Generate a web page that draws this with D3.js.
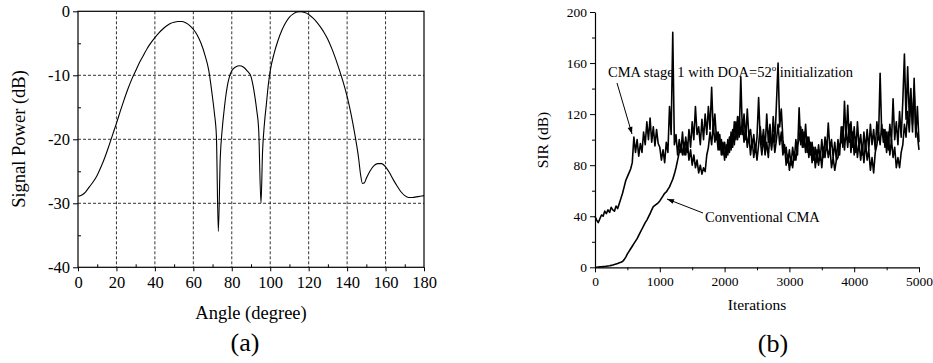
<!DOCTYPE html>
<html>
<head>
<meta charset="utf-8">
<script src="https://cdn.jsdelivr.net/npm/d3@7"></script>
<style>
  body { margin: 0; background: #fff; }
  svg text { font-family: "Liberation Serif", "Times New Roman", serif !important; fill: #000; }
</style>
</head>
<body>
<svg id="chart" width="933" height="363"></svg>
<script>
// (a) beam pattern
const angles = [0, 2, 4, 6, 8, 10, 12, 14, 16, 18, 20, 22, 24, 26, 28, 30, 32, 34, 36, 38, 40,
  42, 44, 46, 48, 50, 52, 54, 56, 58, 60, 62, 64, 66, 68, 70, 71, 72, 73, 74, 75, 76, 77, 78, 79, 80,
  82, 84, 86, 88, 90, 91, 92, 93, 94, 95.2, 96, 97, 98, 99, 100, 102, 104, 106, 108, 110, 112, 114,
  116, 118, 120, 122, 124, 126, 128, 130, 132, 134, 136, 138, 140, 142, 144, 146, 147, 148, 149, 150,
  152, 154, 156, 158, 160, 162, 164, 166, 168, 170, 172, 174, 176, 178, 180];
const power = [-28.9, -28.7, -28.2, -27.4, -26.6, -25.6, -24.3, -22.8, -21.1, -19.3, -17.5, -15.6,
  -13.8, -12.1, -10.6, -9.3, -8.0, -6.9, -5.8, -4.9, -4.1, -3.4, -2.8, -2.3, -1.9, -1.7, -1.6, -1.6,
  -1.8, -2.2, -2.8, -3.7, -5.0, -6.8, -9.2, -13.5, -16.0, -19.5, -34.4, -23.0, -18.5, -15.5, -13.0,
  -11.2, -10.0, -9.3, -8.7, -8.5, -8.7, -9.3, -10.2, -11.5, -13.3, -15.5, -18.5, -30.0, -22.0, -17.5,
  -14.5, -11.5, -9.3, -6.6, -4.6, -3.0, -1.8, -0.9, -0.4, -0.1, -0.05, -0.2, -0.5, -1.0, -1.6, -2.4,
  -3.3, -4.4, -5.8, -7.4, -9.2, -11.1, -13.3, -16.0, -19.2, -23.0, -25.5, -26.9, -26.8, -26.1, -24.9,
  -24.1, -23.8, -23.8, -24.3, -25.2, -26.3, -27.3, -28.2, -28.8, -29.1, -29.1, -29.0, -28.9, -28.8];
const angleTicks = [0, 20, 40, 60, 80, 100, 120, 140, 160, 180];
const powerTicks = [0, -10, -20, -30, -40];

// (b) SIR convergence, sampled every 25 iterations
const iterStep = 25;
const sirStage1 = [
  40, 37, 35, 38, 41, 40, 44, 42,
  45, 43, 47, 45, 44, 48, 46, 50,
  54, 58, 63, 68, 71, 74, 77, 82,
  102, 90, 100, 87, 97, 90, 106, 96,
  114, 100, 117, 98, 110, 95, 108, 97,
  94, 84, 92, 82, 98, 90, 126, 104,
  184, 96, 104, 88, 100, 90, 106, 88,
  102, 90, 108, 94, 114, 100, 126, 104,
  110, 96, 116, 100, 120, 104, 126, 108,
  141, 106, 120, 100, 106, 92, 100, 88,
  98, 86, 100, 90, 106, 94, 114, 100,
  118, 102, 149, 104, 120, 100, 124, 102,
  108, 94, 104, 90, 102, 133, 100, 88,
  102, 88, 98, 86, 106, 92, 118, 98,
  128, 160, 110, 124, 100, 90, 94, 82,
  92, 80, 94, 84, 100, 88, 125, 96,
  108, 94, 112, 90, 102, 88, 98, 84,
  94, 82, 96, 84, 100, 86, 102, 92,
  113, 92, 100, 86, 98, 84, 100, 88,
  110, 94, 130, 100, 127, 98, 114, 94,
  110, 90, 114, 94, 104, 88, 106, 92,
  108, 92, 112, 96, 108, 92, 114, 100,
  152, 104, 108, 94, 106, 92, 112, 98,
  132, 100, 114, 96, 122, 102, 130, 167,
  116, 157, 118, 140, 106, 148, 102, 126,
  98];
const sirConventional = [
  0, 0, 0.2, 0.3, 0.4, 0.5, 0.6, 0.8,
  1.0, 1.2, 1.5, 1.8, 2.2, 2.6, 3.0, 3.5,
  4.0, 4.6, 6.0, 8.0, 10.5, 12.5, 14.5, 16.5,
  18.5, 20.5, 22.5, 25, 27.5, 30, 32.5, 35,
  37, 39.5, 42, 45, 47.5, 48.5, 49.5, 50.5,
  52, 54, 56, 58, 59, 61, 63, 66,
  69, 73, 78, 84, 90, 96, 88, 98,
  88, 98, 84, 92, 80, 88, 78, 84,
  74, 80, 73, 78, 75, 88, 94, 106,
  96, 112, 98, 106, 92, 104, 88, 98,
  84, 96, 88, 102, 92, 108, 96, 114,
  100, 118, 104, 114, 98, 110, 94, 104,
  88, 100, 86, 96, 84, 96, 110, 96,
  108, 92, 120, 98, 112, 94, 104, 90,
  100, 112, 96, 106, 88, 96, 80, 88,
  76, 86, 78, 90, 84, 96, 100, 110,
  94, 106, 90, 102, 86, 98, 82, 94,
  78, 92, 80, 90, 78, 94, 86, 98,
  86, 94, 78, 86, 76, 84, 86, 96,
  98, 110, 92, 108, 94, 112, 90, 106,
  88, 102, 86, 98, 84, 96, 82, 98,
  84, 92, 76, 86, 74, 90, 96, 106,
  96, 112, 98, 108, 90, 106, 88, 100,
  86, 94, 78, 86, 78, 90, 96, 112,
  102, 122, 106, 134, 112, 140, 108, 104,
  92];
const iterTicks = [0, 1000, 2000, 3000, 4000, 5000];
const sirTicks = [0, 40, 80, 120, 160, 200];

const svg = d3.select("#chart");

// ---------- panel (a) ----------
const a = { left: 78, right: 424, top: 11.3, bottom: 267.3 };
const xa = d3.scaleLinear().domain([0, 180]).range([a.left, a.right]);
const ya = d3.scaleLinear().domain([-40, 0]).range([a.bottom, a.top]);

const ga = svg.append("g");

// grid
ga.selectAll(".vgrid").data(angleTicks.slice(1, -1)).enter().append("line")
  .attr("x1", d => xa(d)).attr("x2", d => xa(d))
  .attr("y1", a.top).attr("y2", a.bottom)
  .attr("stroke", "#000").attr("stroke-width", 0.8).attr("stroke-dasharray", "3,2");
ga.selectAll(".hgrid").data(powerTicks.slice(1, -1)).enter().append("line")
  .attr("x1", a.left).attr("x2", a.right)
  .attr("y1", d => ya(d)).attr("y2", d => ya(d))
  .attr("stroke", "#000").attr("stroke-width", 0.8).attr("stroke-dasharray", "3,2");

// minor ticks (inside)
ga.append("g").attr("transform", "translate(0," + a.bottom + ")")
  .call(d3.axisBottom(xa).tickValues(d3.range(10, 180, 20)).tickSize(-3).tickFormat(""))
  .call(g => g.select(".domain").remove());
ga.append("g").attr("transform", "translate(" + a.left + ",0)")
  .call(d3.axisLeft(ya).tickValues(d3.range(-35, 0, 10)).tickSize(-3).tickFormat(""))
  .call(g => g.select(".domain").remove());

const axA = ga.append("g").attr("transform", "translate(0," + a.bottom + ")")
  .call(d3.axisBottom(xa).tickValues(angleTicks).tickSize(4).tickPadding(5).tickFormat(d3.format("d")));
axA.selectAll("text").attr("font-size", 16.5);
axA.select(".domain").remove();

const ayA = ga.append("g").attr("transform", "translate(" + a.left + ",0)")
  .call(d3.axisLeft(ya).tickValues(powerTicks).tickSize(5).tickPadding(3).tickFormat(d => d === 0 ? "0" : "-" + Math.abs(d)));
ayA.selectAll("text").attr("font-size", 16.5);
ayA.select(".domain").remove();

ga.append("rect")
  .attr("x", a.left).attr("y", a.top)
  .attr("width", a.right - a.left).attr("height", a.bottom - a.top)
  .attr("fill", "none").attr("stroke", "#000").attr("stroke-width", 1.2);

ga.append("path")
  .datum(angles.map((d, i) => [d, power[i]]))
  .attr("fill", "none").attr("stroke", "#000").attr("stroke-width", 1.1)
  .attr("d", d3.line().x(d => xa(d[0])).y(d => ya(d[1])).curve(d3.curveMonotoneX));

ga.append("text").attr("x", 251).attr("y", 319).attr("text-anchor", "middle")
  .attr("font-size", 18.5).text("Angle (degree)");
ga.append("text").attr("transform", "translate(25,139) rotate(-90)").attr("text-anchor", "middle")
  .attr("font-size", 18.5).text("Signal Power (dB)");
ga.append("text").attr("x", 245).attr("y", 351).attr("text-anchor", "middle")
  .attr("font-size", 26).text("(a)");

// ---------- panel (b) ----------
const b = { left: 595, right: 919, top: 12, bottom: 267.3 };
const xb = d3.scaleLinear().domain([0, 5000]).range([b.left, b.right]);
const yb = d3.scaleLinear().domain([0, 200]).range([b.bottom, b.top]);
const gb = svg.append("g");

gb.append("g").attr("transform", "translate(0," + b.bottom + ")")
  .call(d3.axisBottom(xb).tickValues(d3.range(500, 5000, 1000)).tickSize(3).tickFormat(""))
  .call(g => g.select(".domain").remove());
gb.append("g").attr("transform", "translate(" + b.left + ",0)")
  .call(d3.axisLeft(yb).tickValues(d3.range(20, 200, 40)).tickSize(3).tickFormat(""))
  .call(g => g.select(".domain").remove());

const axB = gb.append("g").attr("transform", "translate(0," + b.bottom + ")")
  .call(d3.axisBottom(xb).tickValues(iterTicks).tickSize(5).tickSizeOuter(0).tickPadding(4).tickFormat(d3.format("d")));
axB.selectAll("text").attr("font-size", 13.5);
axB.select(".domain").attr("stroke-width", 1.2);

const ayB = gb.append("g").attr("transform", "translate(" + b.left + ",0)")
  .call(d3.axisLeft(yb).tickValues(sirTicks).tickSize(5).tickSizeOuter(0).tickPadding(3).tickFormat(d3.format("d")));
ayB.selectAll("text").attr("font-size", 13.5);
ayB.select(".domain").attr("stroke-width", 1.2);

const lineB = d3.line().x((d, i) => xb(i * iterStep)).y(d => yb(d));
gb.append("path").datum(sirConventional)
  .attr("fill", "none").attr("stroke", "#000").attr("stroke-width", 1.6)
  .attr("stroke-linejoin", "round").attr("d", lineB);
gb.append("path").datum(sirStage1)
  .attr("fill", "none").attr("stroke", "#000").attr("stroke-width", 1.6)
  .attr("stroke-linejoin", "round").attr("d", lineB);

svg.append("defs").append("marker")
  .attr("id", "arrow").attr("viewBox", "0 0 10 10").attr("refX", 10).attr("refY", 5)
  .attr("markerWidth", 9).attr("markerHeight", 7).attr("orient", "auto")
  .attr("markerUnits", "userSpaceOnUse")
  .append("path").attr("d", "M0,1.5 L10,5 L0,8.5 Z").attr("fill", "#000");

const t1 = gb.append("text").attr("x", 608).attr("y", 77).attr("font-size", 14.5);
t1.append("tspan").text("CMA stage 1 with DOA=52");
t1.append("tspan").attr("font-size", 9).attr("dy", -6).text("o");
t1.append("tspan").attr("dy", 6).text(" initialization");
gb.append("line").attr("x1", 617).attr("y1", 83).attr("x2", 632).attr("y2", 134)
  .attr("stroke", "#000").attr("stroke-width", 1).attr("marker-end", "url(#arrow)");

gb.append("text").attr("x", 705).attr("y", 222).attr("font-size", 14.5).text("Conventional CMA");
gb.append("line").attr("x1", 703).attr("y1", 213).attr("x2", 667).attr("y2", 199)
  .attr("stroke", "#000").attr("stroke-width", 1).attr("marker-end", "url(#arrow)");

gb.append("text").attr("x", 757).attr("y", 310).attr("text-anchor", "middle")
  .attr("font-size", 15.5).text("Iterations");
gb.append("text").attr("transform", "translate(548,140) rotate(-90)").attr("text-anchor", "middle")
  .attr("font-size", 15.5).text("SIR (dB)");
gb.append("text").attr("x", 773).attr("y", 352).attr("text-anchor", "middle")
  .attr("font-size", 26).text("(b)");
</script>
</body>
</html>
